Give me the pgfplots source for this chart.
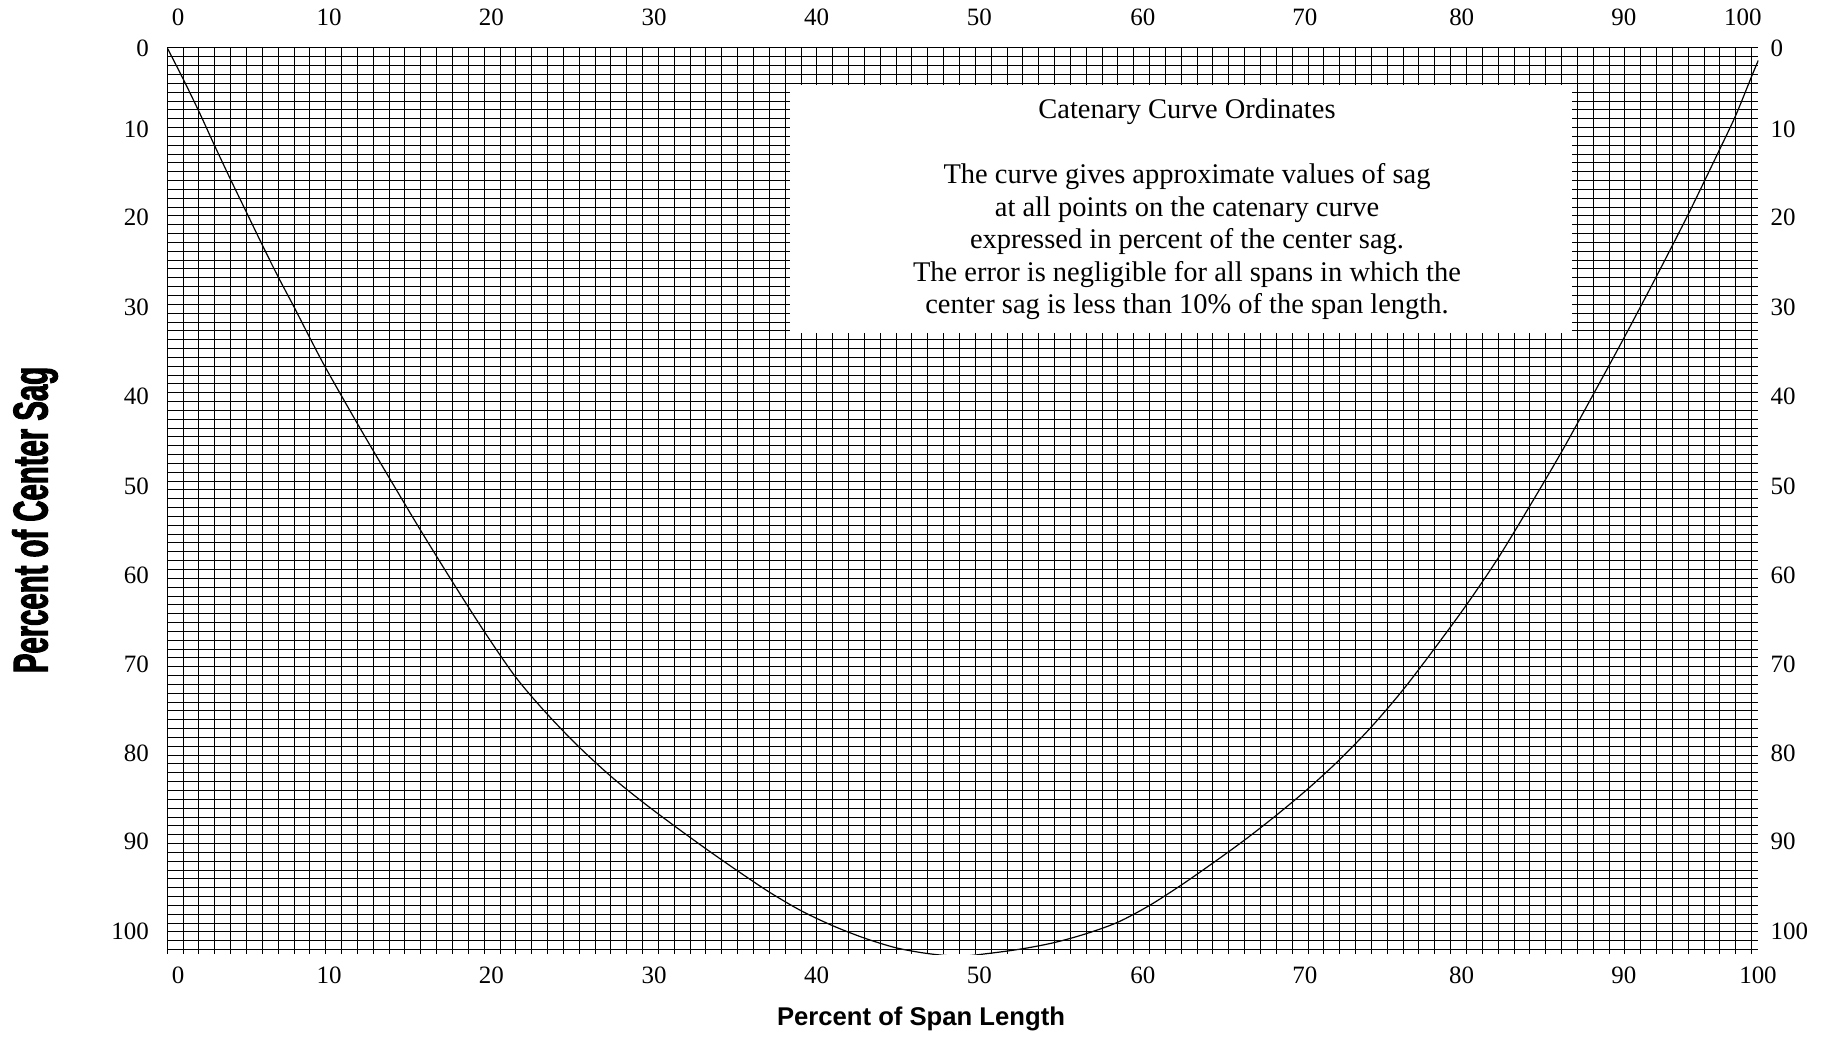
\documentclass[border=0pt]{standalone}
\usepackage{fontspec}
\setmainfont{Liberation Serif}
\newfontfamily\labelfont{Liberation Sans}
\newfontfamily\sagfont[FakeStretch=0.6,FakeBold=2]{Liberation Sans}
\usepackage{pgfplots}
\pgfplotsset{compat=1.18}

% sag in percent of center sag
\pgfplotstableread{
x y
0 0
1 3.5
2 7.2
3 11.1
4 14.9
5 18.6
6 22.3
7 25.9
8 29.3
9 32.8
10 36.2
12 42.5
14 48.6
16 54.6
18 60.4
20 66.0
22 71.2
24 75.4
26 79.1
28 82.4
30 85.3
32 88.0
34 90.6
36 93.1
38 95.5
40 97.6
42 99.3
44 100.7
46 101.8
48 102.45
50 102.75
52 102.4
54 101.9
56 101.2
58 100.2
60 98.9
62 97.0
64 94.7
66 92.2
68 89.6
70 86.8
72 83.8
74 80.5
76 76.8
78 72.6
80 67.9
82 63.0
84 57.7
86 51.8
88 45.7
90 39.2
92 32.6
94 25.8
96 18.8
98 11.4
99 7.6
100 3.2
100.42 1.4
}\sagdata

\pgfplotsset{
  paper/.style={
    scale only axis, width=159.1mm, height=90.6mm,
    xmin=0, xmax=100.42, ymin=0, ymax=102.5, y dir=reverse,
    axis line style={draw=none},
    major tick length=0pt, minor tick length=0pt,
    ytick={0,9.22,19.21,29.30,39.42,49.55,59.67,69.68,79.80,89.80,99.94},
    yticklabels={0,10,20,30,40,50,60,70,80,90,100},
    tick label style={font=\fontsize{7.1}{8.5}\selectfont},
  }
}

\begin{document}
\begin{tikzpicture}
\begin{axis}[paper, name=ax, at={(0,0)}, anchor=south west,
  xtick={0.69,10.22,20.46,30.73,40.98,51.25,61.57,71.80,81.70,91.93,100.4},
  xticklabels={0,10,20,30,40,50,60,70,80,90,100},
  minor xtick={0,1,...,100}, minor ytick={0,1,...,102},
  xminorgrids, yminorgrids,
  minor grid style={black, line width=0.1mm},
  yticklabel style={xshift=-0.6mm},
]
\addplot[black, line width=0.12mm, smooth] table[x=x, y=y] {\sagdata};
\fill[white] (axis cs:39.3,4.19) rectangle (axis cs:88.66,32.24);
\node[align=center, font=\fontsize{8.1}{9.28}\selectfont] at (axis cs:64.36,18.25)
  {Catenary Curve Ordinates\\[9.28pt]
   The curve gives approximate values of sag\\
   at all points on the catenary curve\\
   expressed in percent of the center sag.\\
   The error is negligible for all spans in which the\\
   center sag is less than 10\% of the span length.};
\end{axis}
\begin{axis}[paper, at={(ax.south west)}, anchor=south west,
  xticklabel pos=upper, yticklabel pos=right,
  xtick={0.69,10.22,20.46,30.73,40.98,51.25,61.57,71.80,81.70,91.93,99.45},
  xticklabels={0,10,20,30,40,50,60,70,80,90,100},
  xticklabel style={yshift=1.0mm},
]
\end{axis}
\node[font=\labelfont\bfseries\fontsize{7.3}{8.5}\selectfont]
  at ([shift={(75.37mm,-6.5mm)}]ax.south west) {Percent of Span Length};
\node[rotate=90, font=\sagfont\bfseries\fontsize{13.9}{16}\selectfont]
  at ([shift={(-13.23mm,43.4mm)}]ax.south west) {Percent of Center Sag};
\pgfresetboundingbox
\path[use as bounding box] ([shift={(-16.73mm,-8.3mm)}]ax.south west)
  rectangle ([shift={(6.37mm,4.8mm)}]ax.north east);
\end{tikzpicture}
\end{document}
